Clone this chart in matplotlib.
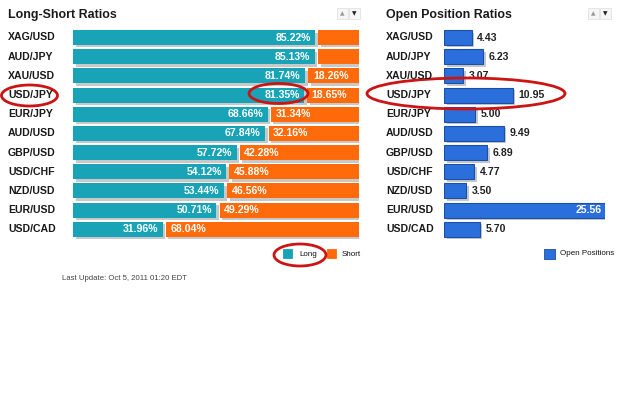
import matplotlib
matplotlib.use("Agg")
import matplotlib.pyplot as plt
import matplotlib.patheffects as pe
from matplotlib.patches import Ellipse, Rectangle

plt.rcParams['font.family'] = ['Liberation Sans', 'DejaVu Sans']

pairs = ["XAG/USD", "AUD/JPY", "XAU/USD", "USD/JPY", "EUR/JPY", "AUD/USD",
         "GBP/USD", "USD/CHF", "NZD/USD", "EUR/USD", "USD/CAD"]
long_pct = [85.22, 85.13, 81.74, 81.35, 68.66, 67.84, 57.72, 54.12, 53.44, 50.71, 31.96]
short_pct = [14.78, 14.87, 18.26, 18.65, 31.34, 32.16, 42.28, 45.88, 46.56, 49.29, 68.04]
open_pos = [4.43, 6.23, 3.07, 10.95, 5.00, 9.49, 6.89, 4.77, 3.50, 25.56, 5.70]

TEAL = "#19a3b7"
ORANGE = "#ff6a0a"
BLUE = "#2b6fdc"
BLUE_EDGE = "#1d4fa5"
SHADOW = "#c8c8c8"

W, H = 625, 419
fig = plt.figure(figsize=(W / 100, H / 100), dpi=100)
fig.patch.set_facecolor("white")


def fx(x):
    return x / W


def fy(y):
    return 1 - y / H


row_h = 19.18
n = len(pairs)
top = 37.5 - row_h / 2
ax_h = row_h * n
shadow = [pe.SimplePatchShadow(offset=(1.8, -1.8), shadow_rgbFace=SHADOW, alpha=1.0), pe.Normal()]

# ---------- Left panel ----------
axL = fig.add_axes([fx(73), fy(top + ax_h), fx(286), ax_h / H])
ypos = list(range(n))
gap = 0.55
bh = 0.78
bl = axL.barh(ypos, [v - gap for v in long_pct], height=bh, color=TEAL, left=0)
bs = axL.barh(ypos, [v - gap for v in short_pct], height=bh, color=ORANGE,
              left=[v + gap for v in long_pct])
for p in list(bl) + list(bs):
    p.set_path_effects(shadow)
for i, (lv, sv) in enumerate(zip(long_pct, short_pct)):
    axL.text(lv - gap - 1.6, i, f"{lv:.2f}%", ha="right", va="center", color="white",
             fontsize=7.6, fontweight="bold")
    if sv >= 15:
        axL.text(lv + gap + 1.6, i, f"{sv:.2f}%", ha="left", va="center", color="white",
                 fontsize=7.6, fontweight="bold")
axL.set_xlim(0, 100)
axL.set_ylim(n - 0.5, -0.5)
axL.axis("off")

# ---------- Right panel ----------
xmax = max(open_pos)
axR = fig.add_axes([fx(444), fy(top + ax_h), fx(161), ax_h / H])
br = axR.barh(ypos, open_pos, height=bh, color=BLUE, edgecolor=BLUE_EDGE, linewidth=0.8)
for p in br:
    p.set_path_effects(shadow)
for i, v in enumerate(open_pos):
    if v >= xmax * 0.8:
        axR.text(v - 0.5, i, f"{v:.2f}", ha="right", va="center", color="white",
                 fontsize=7.6, fontweight="bold")
    else:
        axR.text(v + 0.85, i, f"{v:.2f}", ha="left", va="center", color="#222222",
                 fontsize=7.6, fontweight="bold")
axR.set_xlim(0, xmax)
axR.set_ylim(n - 0.5, -0.5)
axR.axis("off")

# ---------- Category labels ----------
for i, name in enumerate(pairs):
    yy = 37.5 + i * row_h
    fig.text(fx(8), fy(yy), name, ha="left", va="center", fontsize=7.6,
             fontweight="bold", color="#1a1a1a")
    fig.text(fx(386), fy(yy), name, ha="left", va="center", fontsize=7.6,
             fontweight="bold", color="#1a1a1a")

# ---------- Titles ----------
fig.text(fx(8), fy(15), "Long-Short Ratios", ha="left", va="center", fontsize=8.9,
         fontweight="bold", color="#1a1a1a")
fig.text(fx(386), fy(15), "Open Position Ratios", ha="left", va="center", fontsize=8.9,
         fontweight="bold", color="#1a1a1a")

# ---------- Up/down buttons ----------
for x0 in (337, 588):
    for k in range(2):
        bx = x0 + k * 12
        fig.add_artist(Rectangle((fx(bx), fy(19)), fx(11), 11 / H, transform=fig.transFigure,
                                 facecolor="#f6f6f6", edgecolor="#e2e2e2", linewidth=0.6))
    fig.text(fx(x0 + 5.5), fy(13.5), "\u25B2", ha="center", va="center", fontsize=4.2,
             color="#9a9a9a", family="DejaVu Sans")
    fig.text(fx(x0 + 17.5), fy(13.5), "\u25BC", ha="center", va="center", fontsize=4.2,
             color="#222222", family="DejaVu Sans")

# ---------- Legends ----------
def legend_item(x, y, color, label, off, edge=None):
    fig.add_artist(Rectangle((fx(x), fy(y + 4)), fx(9), 9 / H, transform=fig.transFigure,
                             facecolor=color, edgecolor=edge or color, linewidth=0.6))
    fig.text(fx(x + off), fy(y), label, ha="left", va="center", fontsize=5.8, color="#111111")


legend_item(282.5, 254, TEAL, "Long", 16.5)
legend_item(327, 254, ORANGE, "Short", 15)
fig.add_artist(Rectangle((fx(543.5), fy(258.5)), fx(11), 10 / H, transform=fig.transFigure,
                         facecolor=BLUE, edgecolor=BLUE_EDGE, linewidth=0.6))
fig.text(fx(560), fy(253.5), "Open Positions", ha="left", va="center", fontsize=5.8, color="#111111")

# ---------- Footer ----------
fig.text(fx(62), fy(278.5), "Last Update: Oct 5, 2011 01:20 EDT", ha="left", va="center",
         fontsize=5.6, color="#444444")

# ---------- Red highlight ellipses ----------
RED = "#cc1414"
for cx, cy, w, h in [(29.5, 95.5, 56, 21), (278.5, 93.5, 59, 20),
                     (466, 93.5, 198, 31), (300, 255, 52, 22)]:
    fig.add_artist(Ellipse((fx(cx), fy(cy)), fx(w), h / H, transform=fig.transFigure,
                           fill=False, edgecolor=RED, linewidth=2.0))

fig.savefig("out.png", dpi=100, facecolor="white")
